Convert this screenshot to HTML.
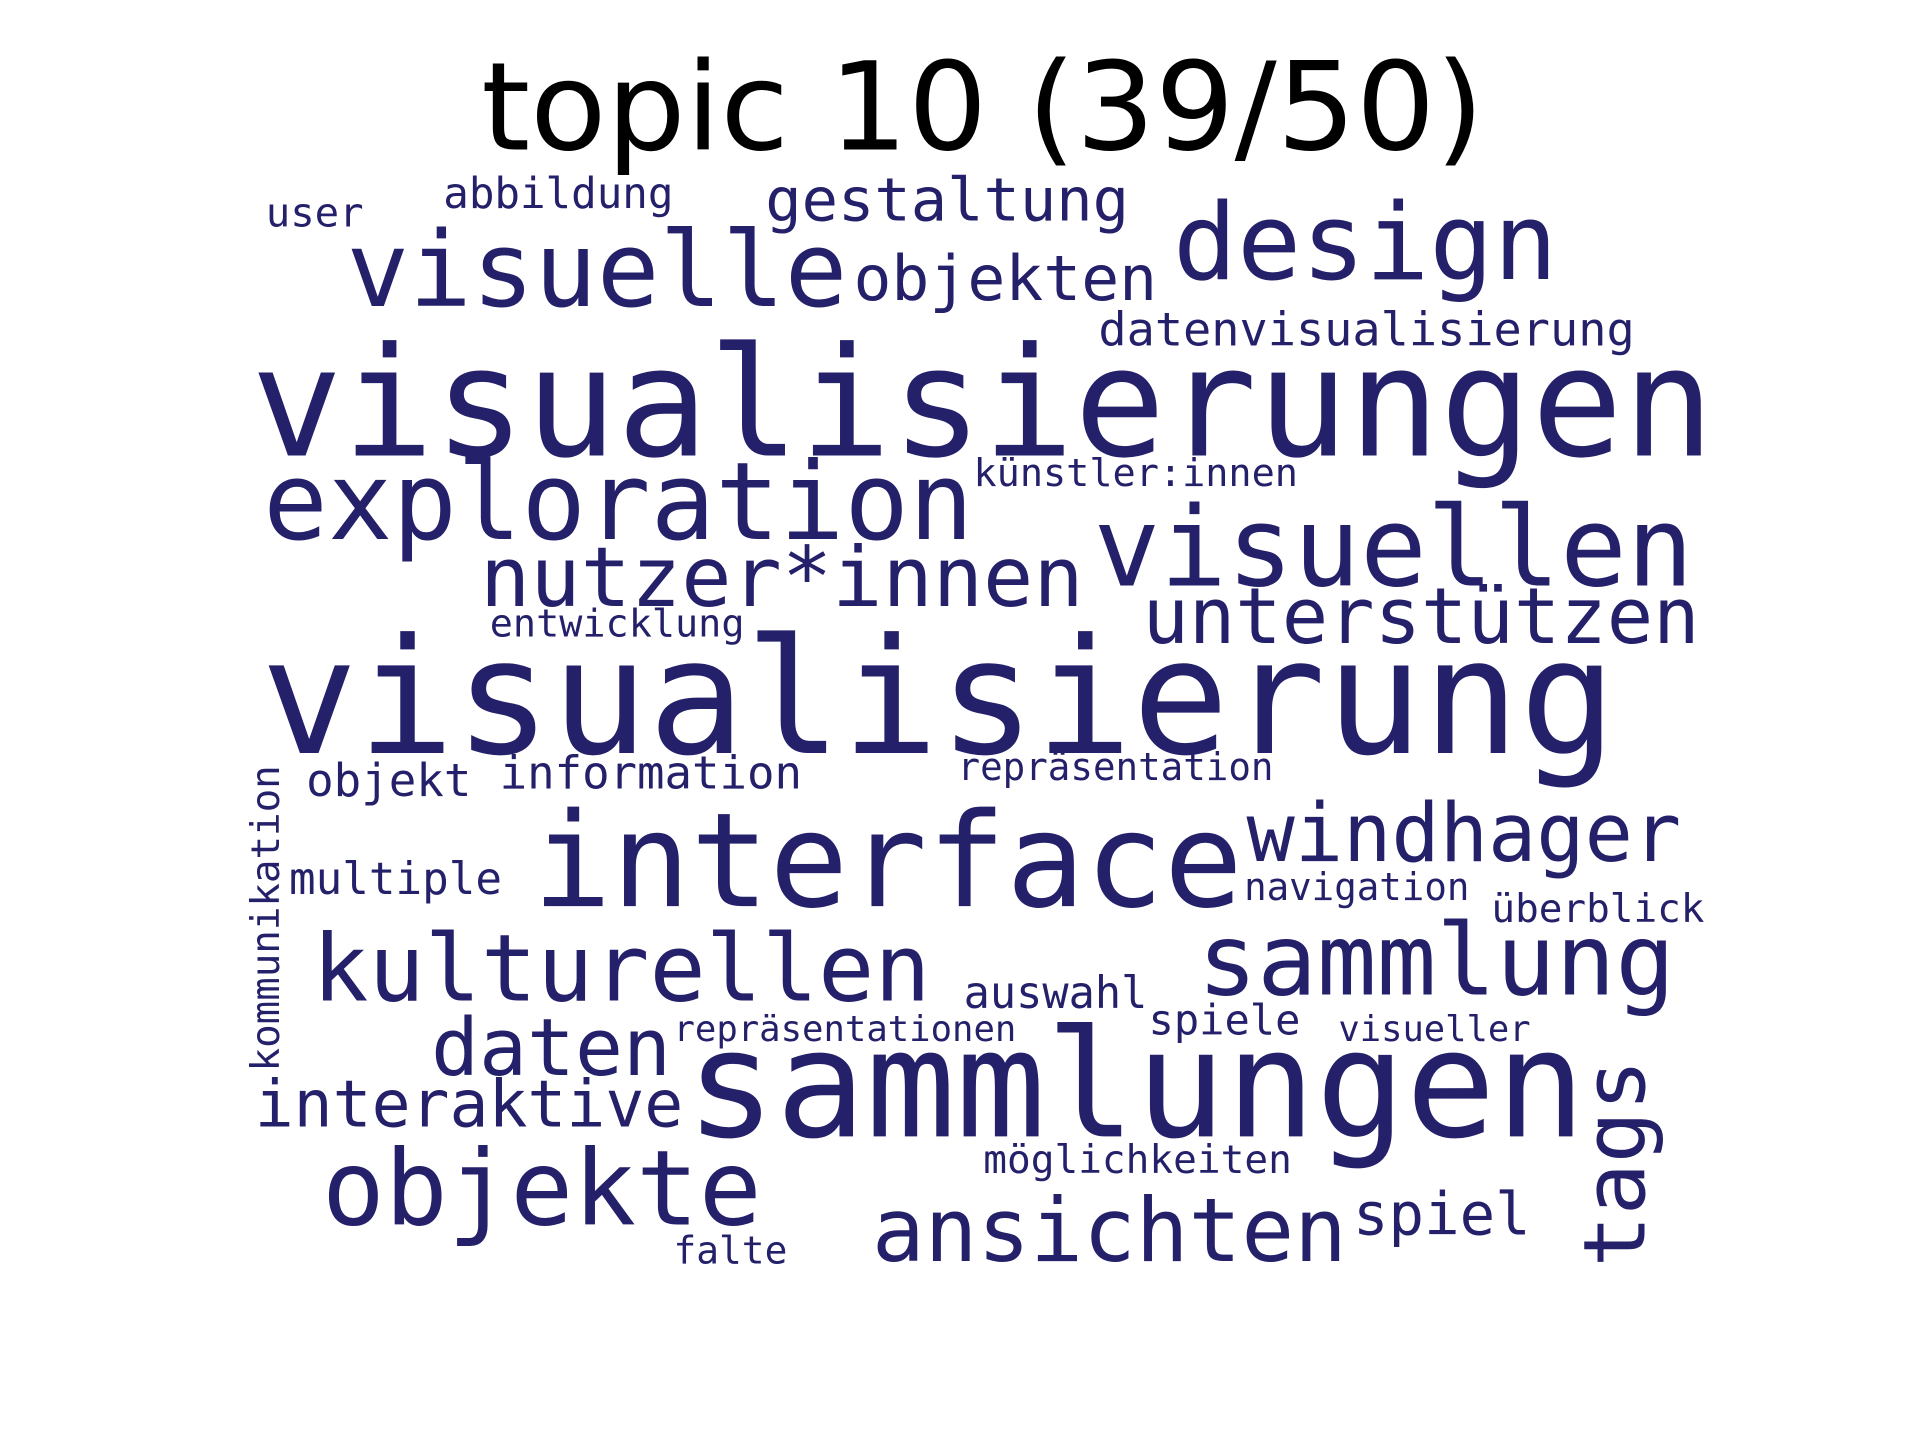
<!DOCTYPE html>
<html>
<head>
<meta charset="utf-8">
<style>
  html, body { margin: 0; padding: 0; background: #ffffff; }
  svg { display: block; }
</style>
</head>
<body>
<svg id="chart" width="1920" height="1440" viewBox="0 0 1568 1176" xmlns="http://www.w3.org/2000/svg">
  <rect x="0" y="0" width="1568" height="1176" fill="#ffffff"></rect>
  <text x="393" y="122" font-family="'DejaVu Sans', 'Liberation Sans', sans-serif" font-size="100" fill="#000000" textLength="819" lengthAdjust="spacingAndGlyphs">topic 10 (39/50)</text>
  <g id="words"></g>
</svg>
<script>
// word cloud data
const words = ["visualisierungen","visualisierung","sammlungen","interface","exploration","visuellen","design","visuelle","kulturellen","sammlung","objekte","ansichten","nutzer*innen","unterstützen","windhager","daten","interaktive","tags","objekten","gestaltung","spiel","datenvisualisierung","information","abbildung","künstler:innen","objekt","multiple","auswahl","spiele","entwicklung","repräsentation","navigation","überblick","repräsentationen","visueller","möglichkeiten","falte","user","kommunikation"];
const weights = [124,131,122,107,88,90,87,85,76,81,85,72,68,63,66,65,53,70,51,49,48,38,37,35,31,37,36,36,34,31,31,31,32,29,29,32,31,33,32];
const posX = [205,213,560,435,215,893,958,283,255,978,263,712,392,933,1018,352,208,1343,697,625,1105,897,408,362,795,250,236,787,938,400,782,1016,1218,550,1093,803,550,217,228];
const posY = [372,615,928,740,440,478,228,250,817,812,1000,1030,495,525,703,878,920,1035,245,180,1008,282,644,170,397,650,730,823,845,520,637,735,753,850,850,958,1032,185,875];
const spans = [1195,1107,735,580,580,490,314,409,505,390,359,388,493,455,355,196,350,170,248,297,145,438,247,188,265,135,174,150,124,208,258,184,174,280,157,252,93,80,250];
const rotated = [0,0,0,0,0,0,0,0,0,0,0,0,0,0,0,0,0,1,0,0,0,0,0,0,0,0,0,0,0,0,0,0,0,0,0,0,0,0,1];

const g = document.getElementById('words');
const NS = 'http://www.w3.org/2000/svg';
for (let i = 0; i < words.length; i++) {
  const t = document.createElementNS(NS, 'text');
  t.textContent = words[i];
  t.setAttribute('x', posX[i]);
  t.setAttribute('y', posY[i]);
  t.setAttribute('font-size', weights[i]);
  t.setAttribute('font-family', "'DejaVu Sans Mono', 'Liberation Mono', monospace");
  t.setAttribute('fill', '#24206a');
  t.setAttribute('textLength', spans[i]);
  t.setAttribute('lengthAdjust', 'spacingAndGlyphs');
  if (rotated[i]) t.setAttribute('transform', 'rotate(-90 ' + posX[i] + ' ' + posY[i] + ')');
  
  
  g.appendChild(t);
}
</script>
</body>
</html>
